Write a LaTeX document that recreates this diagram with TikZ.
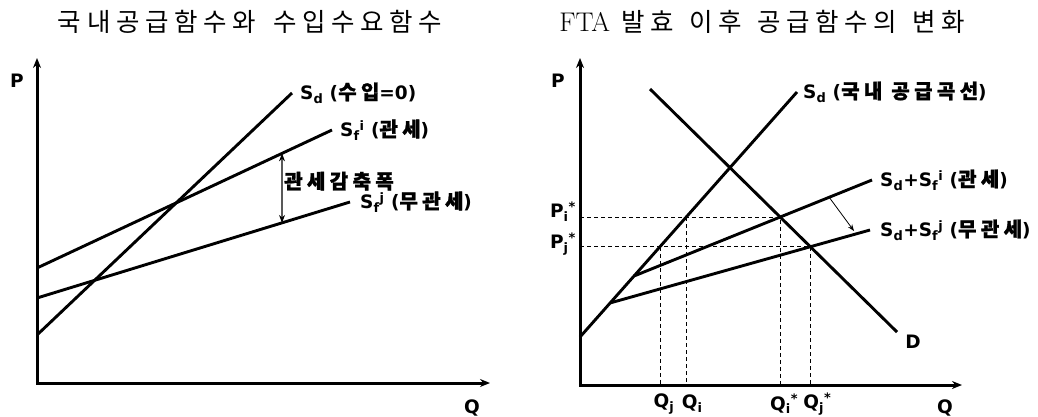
\documentclass[tikz,border=0pt]{standalone}
\usepackage{fontspec}
\usetikzlibrary{arrows.meta,positioning,calc}
\newfontfamily\krt{Noto Sans CJK KR}[LetterSpace=22]
\newfontfamily\krb{Noto Sans CJK KR}[LetterSpace=22,FakeBold=1.3]
\newfontfamily\lat{DejaVu Sans}
\newcommand{\ko}[1]{{\krb\fontsize{20}{23}\selectfont #1}}
\tikzset{
  >=Stealth,
  axis/.style={line width=3pt,line join=miter,{Stealth[length=10pt,width=8pt]}-{Stealth[length=10pt,width=8pt]}},
  curve/.style={line width=2.9pt},
  guide/.style={line width=0.8pt,dash pattern=on 4pt off 3pt},
  thin arrow/.style={line width=1.1pt},
  lbl/.style={font=\lat\bfseries\fontsize{18.5}{22}\selectfont,inner sep=0pt,anchor=west},
  ttl/.style={font=\krt\fontsize{25.5}{29}\selectfont,inner sep=0pt}
}
\begin{document}
\begin{tikzpicture}[x=1pt,y=-1pt]
\useasboundingbox (0,0) rectangle (1038,417);
\node[ttl](t1) at (250,22){국내공급함수와\hspace{6pt} 수입수요함수};
\node[ttl](t2) at (762,22){{\rmfamily\fontsize{27}{30}\selectfont FTA} 발효\hspace{4pt} 이후\hspace{4pt} 공급함수의\hspace{4pt} 변화};
% left panel
\coordinate (o1) at (37,383);
\coordinate (py1) at (37,58);
\coordinate (qx1) at (490,383);
\draw[axis](py1)--(o1)--(qx1);
\node[lbl,anchor=center](p1) at (17,81){P};
\node[lbl,anchor=center](q1) at (472,408){Q};
\coordinate (sd0) at (37,335);\coordinate (sd1) at (292,93);
\coordinate (fi0) at (37,268);\coordinate (fi1) at (332,130);
\coordinate (fj0) at (37,298);\coordinate (fj1) at (350,202);
\draw[curve](sd0)--(sd1);
\draw[curve](fi0)--(fi1);
\draw[curve](fj0)--(fj1);
\node[lbl,right=8pt of sd1](lsd){S\textsubscript{d} (\ko{수입}=0)};
\node[lbl,right=8pt of fi1](lfi){S\textsubscript{f}\textsuperscript{i} (\ko{관세})};
\node[lbl,right=10pt of fj1](lfj){S\textsubscript{f}\textsuperscript{j} (\ko{무관세})};
\coordinate (ta) at (intersection of fi0--fi1 and 282,0--282,400);
\coordinate (tb) at (intersection of fj0--fj1 and 282,0--282,400);
\draw[thin arrow,<->](ta)--(tb);
\node[lbl,right=2pt of $(ta)!0.4!(tb)$](cut){\ko{관세감축폭}};
% right panel
\coordinate (o2) at (580,385);
\coordinate (py2) at (580,58);
\coordinate (qx2) at (962,385);
\draw[axis](py2)--(o2)--(qx2);
\node[lbl,anchor=center](p2) at (558,81){P};
\node[lbl,anchor=center](q2) at (945,408){Q};
\coordinate (s0) at (580,337);\coordinate (s1) at (797,92);
\coordinate (d0) at (650,89);\coordinate (d1) at (897,332);
\coordinate (ai) at ($(s0)!0.249!(s1)$);\coordinate (ai1) at (872,180);
\coordinate (aj) at ($(s0)!0.139!(s1)$);\coordinate (aj1) at (870,230);
\coordinate (ei) at (intersection of ai--ai1 and d0--d1);
\coordinate (ej) at (intersection of aj--aj1 and d0--d1);
\coordinate (pi) at (ei -| o2);
\coordinate (pj) at (ej -| o2);
\coordinate (ci) at (intersection of s0--s1 and pi--ei);
\coordinate (cj) at (intersection of s0--s1 and pj--ej);
\draw[guide](pi)--(ei)--(ei |- o2);
\draw[guide](pj)--(ej)--(ej |- o2);
\draw[guide](ci)--(ci |- o2);
\draw[guide](cj)--(cj |- o2);
\draw[curve](s0)--(s1);
\draw[curve](d0)--(d1);
\draw[curve](ai)--(ai1);
\draw[curve](aj)--(aj1);
\coordinate (m0) at ($(ai)!0.82!(ai1)$);
\coordinate (m1) at (854,231);
\draw[thin arrow,->,line width=0.8pt](m0)--(m1);
\node[lbl,right=6pt of s1](ls){S\textsubscript{d} (\ko{국내 공급곡선})};
\node[lbl,right=8pt of ai1](lai){S\textsubscript{d}+S\textsubscript{f}\textsuperscript{i} (\ko{관세})};
\node[lbl,right=10pt of aj1](laj){S\textsubscript{d}+S\textsubscript{f}\textsuperscript{j} (\ko{무관세})};
\node[lbl,anchor=center](ld) at (913,342){D};
\node[lbl,anchor=east](lpi) at (576,212){P\textsubscript{i}\textsuperscript{*}};
\node[lbl,anchor=east](lpj) at (576,244){P\textsubscript{j}\textsuperscript{*}};
\node[lbl,anchor=center](lqj) at ($(cj |- o2)+(4,19)$){Q\textsubscript{j}};
\node[lbl,anchor=center](lqi) at ($(ci |- o2)+(6,19)$){Q\textsubscript{i}};
\node[lbl,anchor=center](lqis) at ($(ei |- o2)+(4,19)$){Q\textsubscript{i}\textsuperscript{*}};
\node[lbl,anchor=center](lqjs) at ($(ej |- o2)+(7,19)$){Q\textsubscript{j}\textsuperscript{*}};
\end{tikzpicture}
\end{document}
